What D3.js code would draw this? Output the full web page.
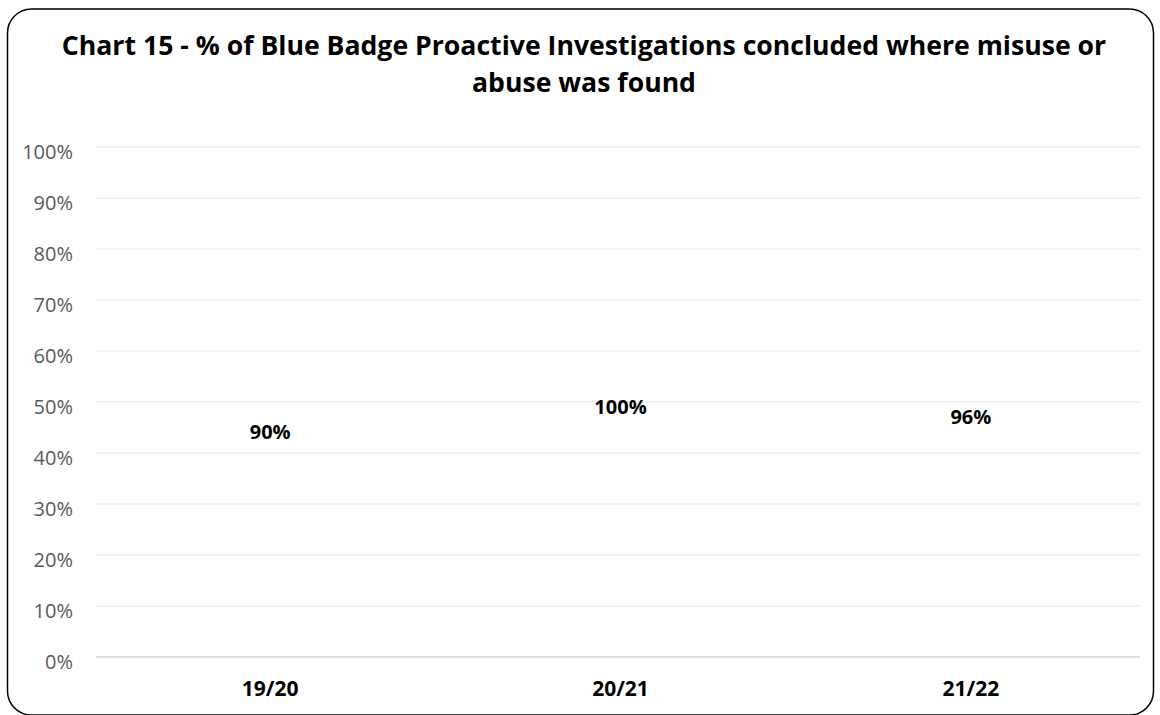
<!DOCTYPE html>
<html>
<head>
<meta charset="utf-8">
<script src="https://cdn.jsdelivr.net/npm/d3@7"></script>
<style>
  html, body { margin: 0; padding: 0; background: #fff; }
  svg { display: block; }
</style>
</head>
<body>
<div id="main"></div>
<script>
// chart values
const categories = ['19/20', '20/21', '21/22'];
const values = [90, 100, 96];
const yTicks = [0, 10, 20, 30, 40, 50, 60, 70, 80, 90, 100];
const titleLines = [
  'Chart 15 - % of Blue Badge Proactive Investigations concluded where misuse or',
  'abuse was found'
];

const width = 1160, height = 715;
const svg = d3.select('#main').append('svg').attr('width', width).attr('height', height);

// outer rounded frame
svg.append('rect')
  .attr('x', 7.5).attr('y', 9).attr('width', 1146).attr('height', 706)
  .attr('rx', 24).attr('ry', 24)
  .style('fill', '#fff').style('stroke', '#000').style('stroke-width', 1.5);

// title
svg.selectAll('text.title').data(titleLines).join('text').classed('title', true)
  .attr('x', 584)
  .attr('y', (d, i) => 55 + i * 37)
  .attr('text-anchor', 'middle')
  .style('font-family', 'Open Sans, sans-serif')
  .style('font-weight', 'bold')
  .style('font-size', '24px')
  .style('fill', '#000')
  .text(d => d);

// fit first title line to the reference width
const w1 = svg.select('text.title').node().getComputedTextLength();
svg.selectAll('text.title').style('font-size', (24 * 1045 / w1) + 'px');

const x = d3.scaleBand().domain(categories).range([95, 1146]);
const y = d3.scaleLinear().domain([0, 100]).range([657, 147]);

// gridlines
svg.append('g').selectAll('line').data(yTicks).join('line')
  .attr('x1', 96).attr('x2', 1140)
  .attr('y1', d => y(d)).attr('y2', d => y(d))
  .style('stroke', d => d === 0 ? '#d9d9d9' : '#efefef')
  .style('stroke-width', 1.5);

// y axis labels
svg.append('g').selectAll('text').data(yTicks).join('text')
  .attr('x', 73)
  .attr('y', d => y(d) + 12)
  .attr('text-anchor', 'end')
  .style('font-family', 'Open Sans, sans-serif')
  .style('font-size', '20px')
  .style('fill', '#595959')
  .text(d => d + '%');

// bars (no fill in the reference)
svg.append('g').selectAll('rect').data(values).join('rect')
  .attr('x', (d, i) => x(categories[i]) + x.bandwidth() * 0.2)
  .attr('width', x.bandwidth() * 0.6)
  .attr('y', d => y(d))
  .attr('height', d => y(0) - y(d))
  .style('fill', 'none');

// value labels centred in bars
svg.append('g').selectAll('text').data(values).join('text')
  .attr('x', (d, i) => x(categories[i]) + x.bandwidth() / 2)
  .attr('y', d => y(d / 2) + 11.5)
  .attr('text-anchor', 'middle')
  .style('font-family', 'Open Sans, sans-serif')
  .style('font-weight', 'bold')
  .style('font-size', '20px')
  .style('fill', '#000')
  .text(d => d + '%');

// category labels
svg.append('g').selectAll('text').data(categories).join('text')
  .attr('x', d => x(d) + x.bandwidth() / 2)
  .attr('y', 696)
  .attr('text-anchor', 'middle')
  .style('font-family', 'Open Sans, sans-serif')
  .style('font-weight', 'bold')
  .style('font-size', '21px')
  .style('fill', '#000')
  .text(d => d);
</script>
</body>
</html>
